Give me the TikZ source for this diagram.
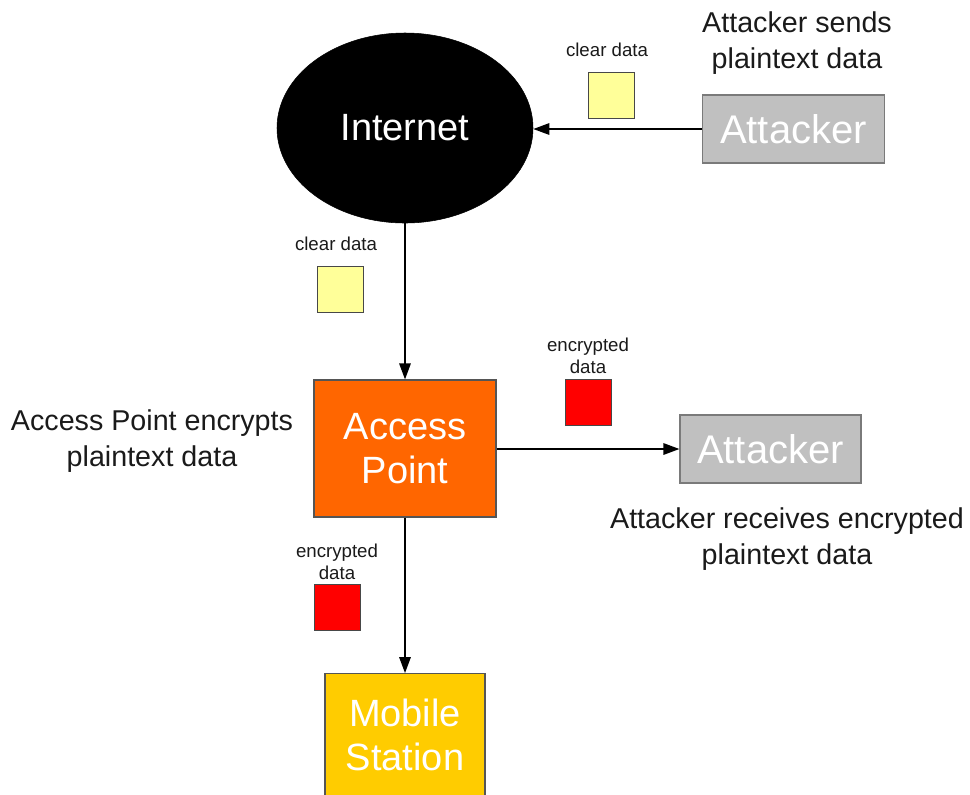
\documentclass[tikz,border=0pt]{standalone}
\usepackage{fontspec}
\setmainfont{Liberation Sans}
\usetikzlibrary{shapes.geometric,arrows.meta}
\definecolor{boxgray}{HTML}{C0C0C0}
\definecolor{edgegray}{HTML}{7A7A7A}
\definecolor{clearyellow}{HTML}{FFFF99}
\definecolor{encred}{HTML}{FF0000}
\definecolor{aporange}{HTML}{FF6600}
\definecolor{msgold}{HTML}{FFCC00}
\definecolor{inkdark}{HTML}{1A1A1A}
\tikzset{
  big/.style={font=\fontsize{28.5}{33}\selectfont, text=white, align=center, inner sep=0pt},
  attackerbox/.style={big, font=\fontsize{30}{33}\selectfont, rectangle, draw=edgegray,
    line width=0.8pt, fill=boxgray, minimum width=137pt, minimum height=51pt},
  packet/.style={rectangle, draw=inkdark!80, line width=0.7pt, minimum size=34.5pt, inner sep=0pt},
  cleardata/.style={packet, fill=clearyellow},
  encdata/.style={packet, fill=encred},
  smalllabel/.style={font=\fontsize{14}{16.5}\selectfont, text=inkdark, align=center, inner sep=0pt},
  caption/.style={font=\fontsize{21.5}{27}\selectfont, text=inkdark, align=center, inner sep=0pt},
  flow/.style={line width=1.4pt, -{Triangle[length=12pt,width=8.5pt]}},
}
\begin{document}
\begin{tikzpicture}[x=0.75pt, y=-0.75pt]
  \clip (0,0) rectangle (970,794);

  % main elements
  \node[big, ellipse, fill=black, draw=black, minimum width=192pt, minimum height=142.5pt]
    (internet) at (405,128) {Internet};
  \node[attackerbox] (attacker1) at (793.5,129) {Attacker};
  \node[big, rectangle, draw=edgegray!70!black, line width=0.8pt, fill=aporange,
    minimum width=136.5pt, minimum height=102.75pt] (ap) at (405,448.5) {Access\\Point};
  \node[attackerbox, minimum width=135.75pt] (attacker2) at (770.5,449) {Attacker};
  \node[big, rectangle, draw=edgegray!70!black, line width=0.8pt, fill=msgold,
    minimum width=120pt, minimum height=92pt] (ms) at (405,735) {Mobile\\Station};

  % connectors
  \draw[flow] (attacker1.west) -- (internet.east |- attacker1.west);
  \draw[flow] (internet.south) -- (ap.north);
  \draw[flow] (ap.east |- attacker2.west) -- (attacker2.west);
  \draw[flow] (ap.south) -- (ms.north);

  % data packets (label anchors sit on the last line's baseline)
  \node[cleardata] (pkt1) at (611,95) {};
  \node[smalllabel, anchor=base] (lbl1) at (607,56) {clear data};
  \node[cleardata] (pkt2) at (340,289) {};
  \node[smalllabel, anchor=base] (lbl2) at (336,250) {clear data};
  \node[encdata] (pkt3) at (588,402.5) {};
  \node[smalllabel, anchor=base] (lbl3) at (588,373) {encrypted\\data};
  \node[encdata] (pkt4) at (337.5,607.5) {};
  \node[smalllabel, anchor=base] (lbl4) at (337,579) {encrypted\\data};

  % captions
  \node[caption, anchor=base] (cap1) at (797,68) {Attacker sends\\plaintext data};
  \node[caption, anchor=base] (cap2) at (152,466) {Access Point encrypts\\plaintext data};
  \node[caption, anchor=base] (cap3) at (787,564) {Attacker receives encrypted\\plaintext data};
\end{tikzpicture}
\end{document}
